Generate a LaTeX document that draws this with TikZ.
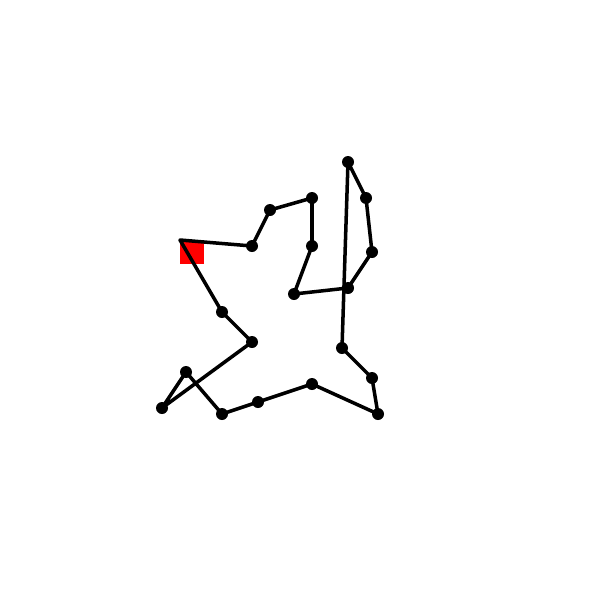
\documentclass[tikz,border=0pt]{standalone}
\usepackage{xcolor}
\usepackage{tikz}
\definecolor{marker}{HTML}{FF0000}
\tikzset{
  trail/.style={line width=5pt,draw=black,line join=round,line cap=round},
  dot/.style={circle,fill=black,inner sep=0pt,minimum size=0.6cm},
  startmark/.style={rectangle,fill=marker,inner sep=0pt,minimum size=1.2cm}
}
\begin{document}
\begin{tikzpicture}[x=0.05cm,y=-0.05cm]
  \useasboundingbox (0,0) rectangle (600,600);
  \coordinate (start) at (180,240);
  \node[startmark,anchor=north west] (mark) at (start) {};
  \foreach \n/\x/\y in {1/252/246,2/270/210,3/312/198,4/312/246,5/294/294,
    6/348/288,7/372/252,8/366/198,9/348/162,10/342/348,11/372/378,
    12/378/414,13/312/384,14/258/402,15/222/414,16/186/372,17/162/408,
    18/252/342,19/222/312}
    \coordinate (p\n) at (\x,\y);
  \draw[trail] (start) -- (p1) -- (p2) -- (p3) -- (p4) -- (p5) -- (p6)
    -- (p7) -- (p8) -- (p9) -- (p10) -- (p11) -- (p12) -- (p13) -- (p14)
    -- (p15) -- (p16) -- (p17) -- (p18) -- (p19) -- cycle;
  \foreach \n in {1,...,19}
    \node[dot] (d\n) at (p\n) {};
\end{tikzpicture}
\end{document}
